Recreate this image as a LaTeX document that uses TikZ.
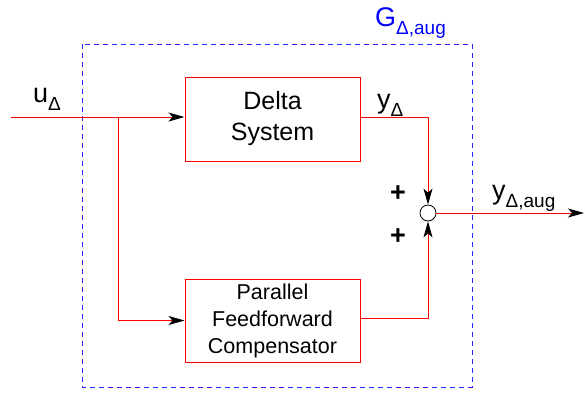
\documentclass[tikz,border=0pt]{standalone}
\usepackage{fontspec}
\setmainfont{Liberation Sans}
\usetikzlibrary{arrows.meta}
\newcommand\lowsub[1]{\raisebox{-0.33em}{\fontsize{19}{19}\selectfont #1}}
\begin{document}
\begin{tikzpicture}[x=1pt,y=-1pt,
  blk/.style={draw=red, line width=1pt, minimum width=175pt, inner sep=0pt, align=center},
  sig/.style={draw=red, line width=1pt},
  arr/.style={sig, -{Stealth[length=16pt,width=9pt,inset=4pt,color=black]}},
  lbl/.style={anchor=base west, inner sep=0pt, font=\fontsize{27}{27}\selectfont},
  pls/.style={inner sep=0pt, font=\fontsize{27}{27}\selectfont\bfseries},
  frame/.style={draw=blue!85!white, line width=1pt, dash pattern=on 5pt off 4pt}]
\useasboundingbox (0,0) rectangle (585,394);
\draw[frame] (82,44) rectangle (472,387);
\node[lbl, text=blue] (glab) at (375,26) {G\lowsub{Δ,aug}};

\node[blk, minimum height=84pt, font=\fontsize{25}{31}\selectfont] (delta) at (272.5,119) {Delta\\System};
\node[blk, minimum height=83pt, font=\fontsize{21.5}{27}\selectfont] (par) at (272.5,320.5) {Parallel\\Feedforward\\Compensator};
\node[draw=black, line width=0.8pt, circle, minimum size=16pt, inner sep=0pt, fill=white] (sum) at (428,213) {};

\coordinate (in) at (11,117);
\coordinate (br) at (118,117);
\coordinate (out) at (584,213);

\draw[arr] (in) -- (delta.west |- in);
\draw[arr] (br) |- (par.west);
\draw[arr] (delta.east |- in) -| (sum.north);
\draw[arr] (par.east |- 0,318) -| (sum.south);
\draw[arr] (sum.east) -- (out);

\node[lbl] (ulab) at (33,102) {u\lowsub{Δ}};
\node[lbl] (ylab) at (377,108) {y\lowsub{Δ}};
\node[lbl] (yalab) at (492,199) {y\lowsub{Δ,aug}};
\node[pls] (p1) at (398,194) {+};
\node[pls] (p2) at (398,237) {+};
\end{tikzpicture}
\end{document}
